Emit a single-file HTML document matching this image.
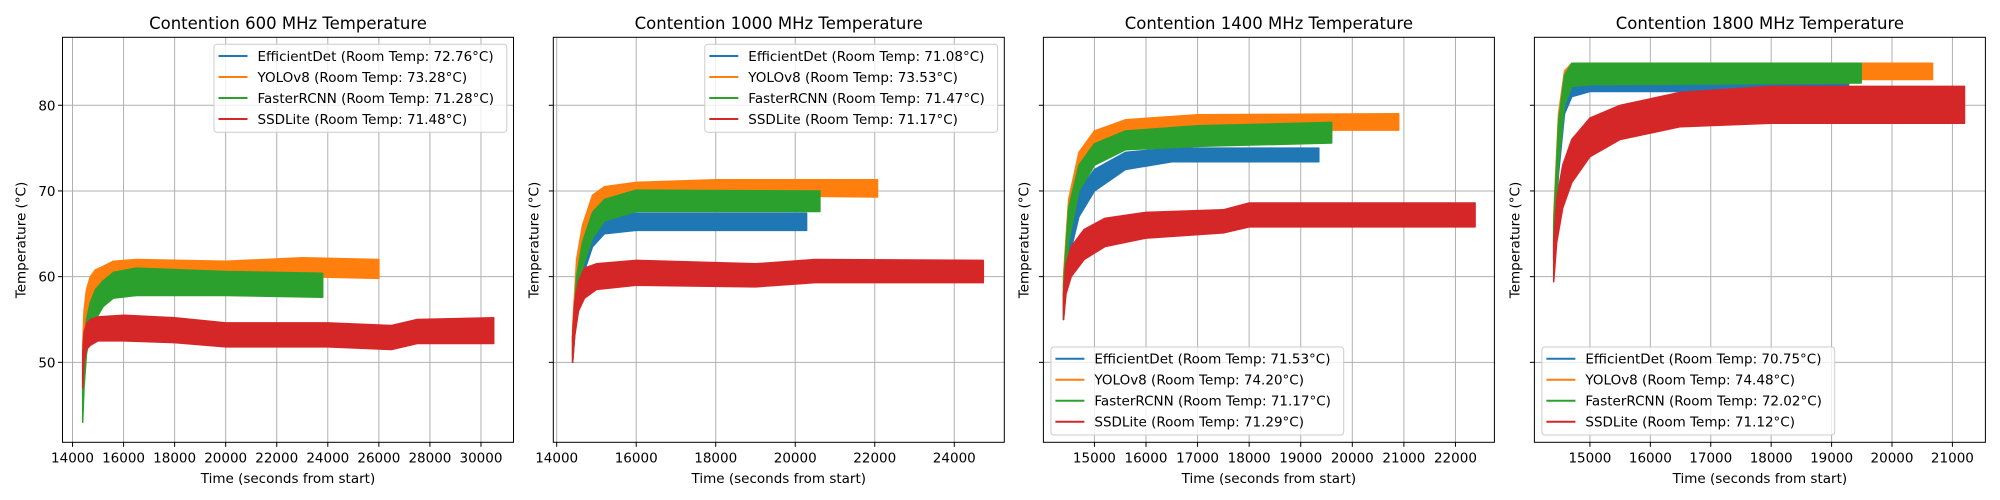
<!DOCTYPE html>
<html><head><meta charset="utf-8">
<style>
html,body{margin:0;padding:0;background:#fff;}
svg{display:block;font-family:"DejaVu Sans","Liberation Sans",sans-serif;}
</style></head>
<body>
<svg id="chart" width="2000" height="500" viewBox="0 0 2000 500" xmlns="http://www.w3.org/2000/svg"></svg>
<script>
// ---- data ----
const panelTitles = ["Contention 600 MHz Temperature","Contention 1000 MHz Temperature","Contention 1400 MHz Temperature","Contention 1800 MHz Temperature"];
const seriesNames = ["EfficientDet","YOLOv8","FasterRCNN","SSDLite"];
const seriesColors = ["#1f77b4","#ff7f0e","#2ca02c","#d62728"];
const roomTemps = [
  ["72.76","73.28","71.28","71.48"],
  ["71.08","73.53","71.47","71.17"],
  ["71.53","74.20","71.17","71.29"],
  ["70.75","74.48","72.02","71.12"]
];
const xDomains = [[13608,31274],[13915,25258],[14011,22755],[14081,21546]];
const xTicks = [
  [14000,16000,18000,20000,22000,24000,26000,28000,30000],
  [14000,16000,18000,20000,22000,24000],
  [15000,16000,17000,18000,19000,20000,21000,22000],
  [15000,16000,17000,18000,19000,20000,21000]
];
const yDomain = [40.67,87.93];
const yTicks = [50,60,70,80];
const legendPos = ["top","top","bottom","bottom"];

// Envelope data per panel per series: times, low, high
// Panel 1 (600 MHz)
const p1EffT=[14400,14500,14700,15000,15500,16500,22600], p1EffLo=[46,51,54,56,57.5,58,57.8], p1EffHi=[50,54,57,58.5,59,59.3,59.2];
const p1YoloT=[14400,14450,14550,14700,14900,15200,15600,16500,20000,23000,26000], p1YoloLo=[47,52,55,57,58.5,59.5,60,60,59.8,60,59.8], p1YoloHi=[52,56,58.5,60,60.8,61.2,61.8,62,61.8,62.2,62];
const p1FrT=[14400,14450,14550,14700,14900,15200,15600,16500,20000,23800], p1FrLo=[43,47,51,53.5,55,56.5,57.5,57.8,57.8,57.6], p1FrHi=[48,52,55,57,58.5,59.5,60.5,61,60.6,60.4];
const p1SsdT=[14400,14450,14550,14700,15000,16000,18000,20000,24000,26500,27500,30500], p1SsdLo=[47,50,51.5,52,52.5,52.5,52.3,51.8,51.8,51.5,52.2,52.2], p1SsdHi=[51,53.5,54.5,55,55.3,55.5,55.2,54.6,54.6,54.3,55,55.2];
// Panel 2 (1000 MHz)
const p2EffT=[14400,14500,14650,14900,15200,16000,20285], p2EffLo=[50,56,60,63.5,65,65.4,65.4], p2EffHi=[53,59,63,66,67,67.4,67.4];
const p2YoloT=[14400,14500,14650,14900,15200,16000,18000,22070], p2YoloLo=[51,58,63,67,68.5,69.3,69.5,69.3], p2YoloHi=[54,62,66,69.5,70.5,71,71.3,71.3];
const p2FrT=[14400,14500,14650,14900,15200,16000,20620], p2FrLo=[50,56,61,64.5,66.5,67.6,67.6], p2FrHi=[53,60,64,67.5,69,70.1,70];
const p2SsdT=[14400,14450,14550,14700,15000,16000,19000,20500,24730], p2SsdLo=[50,53,56,57.5,58.5,59,58.8,59.3,59.3], p2SsdHi=[53,57,59.5,61,61.5,61.9,61.5,62,61.9];
// Panel 3 (1400 MHz)
const p3EffT=[14400,14500,14700,15000,15600,16500,19350], p3EffLo=[55,62,67,70,72.5,73.4,73.4], p3EffHi=[58,66,70,72.5,74.5,75,75];
const p3YoloT=[14400,14500,14700,15000,15600,17000,20900], p3YoloLo=[56,65,71,74.5,76.5,77.1,77.1], p3YoloHi=[60,69,74.5,77,78.3,78.9,79];
const p3FrT=[14400,14500,14700,15000,15600,17000,19600], p3FrLo=[55,64,70,73,74.8,75.2,75.6], p3FrHi=[59,68,73,75.5,77,77.6,78];
const p3SsdT=[14400,14450,14550,14800,15200,16000,17500,18000,22380], p3SsdLo=[55,58,60,62,63.5,64.5,65.1,65.8,65.8], p3SsdHi=[58,61.5,63.5,65.5,66.8,67.5,67.8,68.6,68.6];
// Panel 4 (1800 MHz)
const p4EffT=[14400,14480,14580,14700,15000,19280], p4EffLo=[62,72,79,81,81.6,81.6], p4EffHi=[66,77,82,83.5,83.6,83.6];
const p4YoloT=[14400,14480,14580,14700,15000,20670], p4YoloLo=[63,74,81,82.6,83,83], p4YoloHi=[67,79,84,84.9,84.9,84.9];
const p4FrT=[14400,14480,14580,14700,15000,19490], p4FrLo=[62,73,80,82.2,82.4,82.6], p4FrHi=[66,78,83.5,84.9,84.9,84.9];
const p4SsdT=[14400,14450,14550,14700,15000,15500,16500,18000,21200], p4SsdLo=[59.4,64,68,71,74,76,77.5,77.9,77.9], p4SsdHi=[64,69,73,76,78.5,80,81.5,82.2,82.2];

const panelSeries = [
  [[p1EffT,p1EffLo,p1EffHi],[p1YoloT,p1YoloLo,p1YoloHi],[p1FrT,p1FrLo,p1FrHi],[p1SsdT,p1SsdLo,p1SsdHi]],
  [[p2EffT,p2EffLo,p2EffHi],[p2YoloT,p2YoloLo,p2YoloHi],[p2FrT,p2FrLo,p2FrHi],[p2SsdT,p2SsdLo,p2SsdHi]],
  [[p3EffT,p3EffLo,p3EffHi],[p3YoloT,p3YoloLo,p3YoloHi],[p3FrT,p3FrLo,p3FrHi],[p3SsdT,p3SsdLo,p3SsdHi]],
  [[p4EffT,p4EffLo,p4EffHi],[p4YoloT,p4YoloLo,p4YoloHi],[p4FrT,p4FrLo,p4FrHi],[p4SsdT,p4SsdLo,p4SsdHi]]
];

// ---- layout ----
const NS="http://www.w3.org/2000/svg";
const svg=document.getElementById('chart');
const axLefts=[62.5,553.3,1043.4,1534.4];
const axW=451, axTop=37.3, axBot=442.3;
function mk(tag,attrs,parent){const e=document.createElementNS(NS,tag);for(const k in attrs)e.setAttribute(k,attrs[k]);(parent||svg).appendChild(e);return e;}

for(let p=0;p<4;p++){
  const L=axLefts[p], R=L+axW;
  const [x0,x1]=xDomains[p];
  const xs=t=>L+(t-x0)/(x1-x0)*axW;
  const ys=v=>axBot-(v-yDomain[0])/(yDomain[1]-yDomain[0])*(axBot-axTop);
  const g=mk('g',{});
  
  
  const clipId='clip'+p;
  const cp=mk('clipPath',{id:clipId},g);
  mk('rect',{x:L,y:axTop,width:axW,height:axBot-axTop},cp);
  // grid
  const grid=mk('g',{},g);
  
  
  xTicks[p].forEach(t=>{const x=xs(t);mk('line',{x1:x,x2:x,y1:axTop,y2:axBot,stroke:'#b0b0b0','stroke-width':1},grid);});
  yTicks.forEach(v=>{const y=ys(v);mk('line',{x1:L,x2:R,y1:y,y2:y,stroke:'#b0b0b0','stroke-width':1},grid);});
  // series
  panelSeries[p].forEach((s,si)=>{
    const [T,lo,hi]=s;
    let pts=[];
    for(let i=0;i<T.length;i++)pts.push(xs(T[i]).toFixed(1)+','+ys(hi[i]).toFixed(1));
    for(let i=T.length-1;i>=0;i--)pts.push(xs(T[i]).toFixed(1)+','+ys(lo[i]).toFixed(1));
    const poly=mk('polygon',{points:pts.join(' '),fill:seriesColors[si],stroke:seriesColors[si],'stroke-width':1.5,'stroke-linejoin':'round','clip-path':'url(#'+clipId+')'},g);
    
    
  });
  // spines
  const sp=mk('rect',{x:L,y:axTop,width:axW,height:axBot-axTop,fill:'none',stroke:'#000','stroke-width':1},g);
  
  
  // x ticks
  xTicks[p].forEach(t=>{
    const x=xs(t);
    mk('line',{x1:x,x2:x,y1:axBot,y2:axBot+4.5,stroke:'#000','stroke-width':1},g);
    const tx=mk('text',{x:x,y:axBot+20,'font-size':13.5,'text-anchor':'middle',fill:'#000'},g);
    tx.textContent=t;
    
    
  });
  // y ticks
  yTicks.forEach(v=>{
    const y=ys(v);
    mk('line',{x1:L-4.5,x2:L,y1:y,y2:y,stroke:'#000','stroke-width':1},g);
    if(p===0){
      const ty=mk('text',{x:L-7,y:y+5,'font-size':13.5,'text-anchor':'end',fill:'#000'},g);
      ty.textContent=v;
      
      
    }
  });
  // title
  const tt=mk('text',{x:L+axW/2,y:29,'font-size':16.5,'text-anchor':'middle',fill:'#000'},g);
  tt.textContent=panelTitles[p];
  
  
  // x label
  const xl=mk('text',{x:L+axW/2,y:483,'font-size':13.5,'text-anchor':'middle',fill:'#000'},g);
  xl.textContent='Time (seconds from start)';
  
  
  // y label
  const ylx=L-(p===0?37:15);
  const yl=mk('text',{x:ylx,y:240,'font-size':13.5,'text-anchor':'middle',fill:'#000',transform:'rotate(-90 '+ylx+' 240)'},g);
  yl.textContent='Temperature (°C)';
  
  
  // legend
  const lx = legendPos[p]==='top' ? R-299.5 : L+7.5;
  const ly = legendPos[p]==='top' ? 44.3 : 347;
  const lg=mk('g',{},g);
  
  
  mk('rect',{x:lx,y:ly,width:292.8,height:88,rx:3,fill:'#fff','fill-opacity':0.8,stroke:'#cccccc','stroke-width':1},lg);
  seriesNames.forEach((n,si)=>{
    const ey=ly+11.7+si*21;
    const e=mk('g',{},lg);
    
    
    mk('line',{x1:lx+4.5,x2:lx+33.5,y1:ey,y2:ey,stroke:seriesColors[si],'stroke-width':2},e);
    const t=mk('text',{x:lx+43.5,y:ey+5,'font-size':13.5,fill:'#000'},e);
    t.textContent=n+' (Room Temp: '+roomTemps[p][si]+'°C)';
  });
}
</script>
</body></html>
